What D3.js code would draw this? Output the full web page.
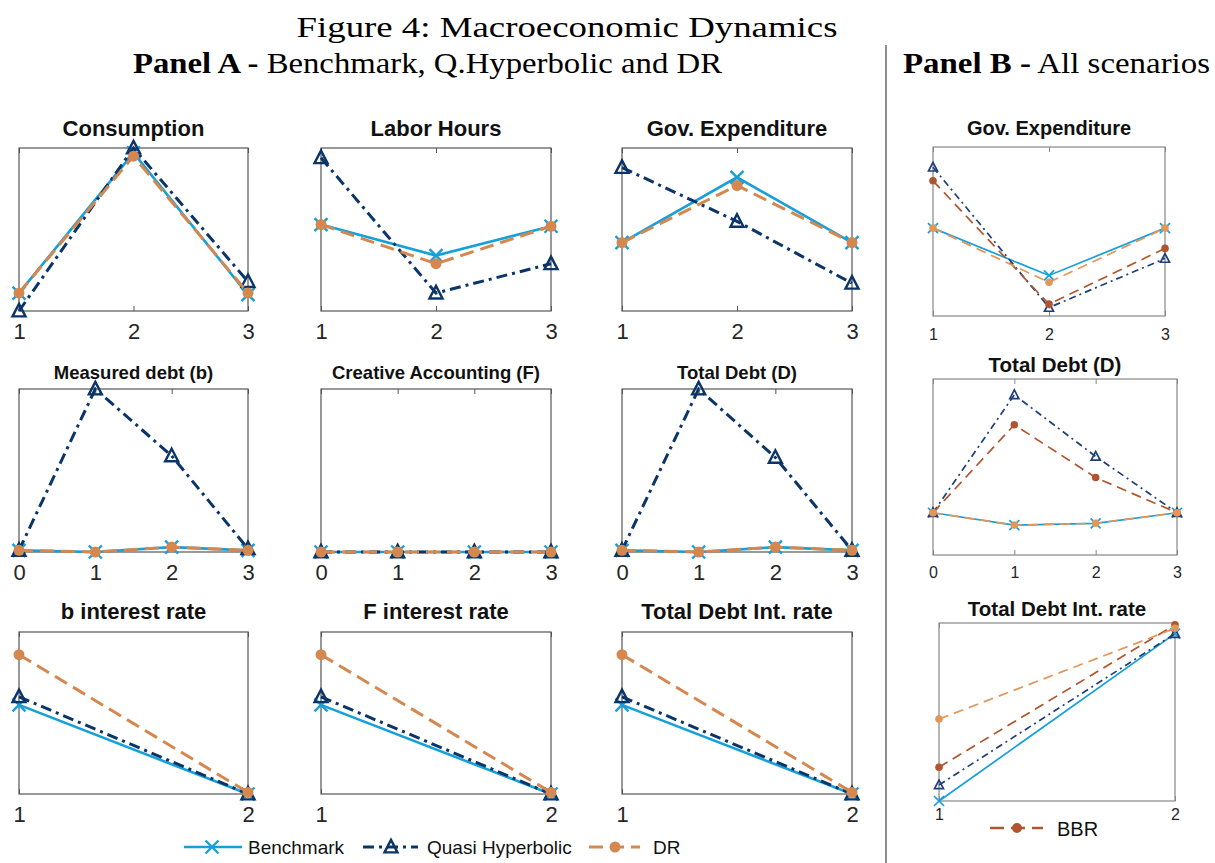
<!DOCTYPE html>
<html><head><meta charset="utf-8">
<script src="https://cdn.jsdelivr.net/npm/d3@7"></script>
<style>body{margin:0;background:#fff}svg{display:block}</style>
</head><body>
<svg id="c" width="1215" height="863"></svg>
<script>
// ---------- DATA (values relative to each panel's own y-range) ----------
const xT3 = [1, 2, 3];
const xT4 = [0, 1, 2, 3];
const xT2 = [1, 2];

const consBench = [0.11, 0.97, 0.10];
const consQH    = [0.00, 1.00, 0.18];
const consDR    = [0.11, 0.95, 0.11];

const laborBench = [0.53, 0.34, 0.52];
const laborQH    = [0.94, 0.11, 0.29];
const laborDR    = [0.53, 0.29, 0.52];

const govBench = [0.42, 0.82, 0.42];
const govQH    = [0.88, 0.55, 0.17];
const govDR    = [0.42, 0.77, 0.42];

const bDebtBench = [0.01, 0.00, 0.03, 0.01];
const bDebtQH    = [0.01, 1.00, 0.59, 0.02];
const bDebtDR    = [0.01, 0.00, 0.03, 0.01];

const fAccBench = [0.00, 0.00, 0.00, 0.00];
const fAccQH    = [0.00, 0.00, 0.00, 0.00];
const fAccDR    = [0.00, 0.00, 0.00, 0.00];

const totDebtBench = [0.01, 0.00, 0.03, 0.01];
const totDebtQH    = [0.01, 1.00, 0.58, 0.01];
const totDebtDR    = [0.01, 0.00, 0.03, 0.01];

const bRateBench = [0.55, 0.00];
const bRateQH    = [0.60, 0.00];
const bRateDR    = [0.86, 0.01];

const fRateBench = [0.55, 0.00];
const fRateQH    = [0.60, 0.00];
const fRateDR    = [0.86, 0.01];

const dRateBench = [0.55, 0.00];
const dRateQH    = [0.60, 0.00];
const dRateDR    = [0.86, 0.01];

// Panel B
const pbGovBench = [0.52, 0.24, 0.52];
const pbGovQH    = [0.88, 0.05, 0.34];
const pbGovBBR   = [0.80, 0.07, 0.40];
const pbGovDR    = [0.52, 0.20, 0.52];

const pbDebtBench = [0.24, 0.17, 0.18, 0.24];
const pbDebtQH    = [0.24, 0.91, 0.56, 0.24];
const pbDebtBBR   = [0.24, 0.74, 0.44, 0.24];
const pbDebtDR    = [0.24, 0.17, 0.18, 0.24];

const pbRateBench = [0.00, 0.94];
const pbRateQH    = [0.09, 0.94];
const pbRateBBR   = [0.19, 0.99];
const pbRateDR    = [0.46, 0.97];

const seriesNames = ["Benchmark", "Quasi Hyperbolic", "DR"];
const bbrName = "BBR";

// ---------- STYLE ----------
const C = {bench:"#16a0da", qh:"#0b3568", dr:"#d4884f", bbr:"#b1552f", drB:"#e2975a"};
const svg = d3.select("#c");
const FONT = "Liberation Sans, Arial, Helvetica, sans-serif";

svg.append("text").attr("x", 567).attr("y", 37).attr("text-anchor","middle")
  .attr("font-family","Liberation Serif, serif").attr("font-size",29)
  .attr("textLength",541).attr("lengthAdjust","spacingAndGlyphs")
  .text("Figure 4: Macroeconomic Dynamics");
const pa = svg.append("text").attr("x",133).attr("y",73)
  .attr("font-family","Liberation Serif, serif").attr("font-size",29)
  .attr("textLength",589).attr("lengthAdjust","spacingAndGlyphs");
pa.append("tspan").attr("font-weight","bold").text("Panel A -");
pa.append("tspan").text(" Benchmark, Q.Hyperbolic and DR");
const pb = svg.append("text").attr("x",903).attr("y",73)
  .attr("font-family","Liberation Serif, serif").attr("font-size",29)
  .attr("textLength",307).attr("lengthAdjust","spacingAndGlyphs");
pb.append("tspan").attr("font-weight","bold").text("Panel B -");
pb.append("tspan").text(" All scenarios");

svg.append("line").attr("x1",886).attr("x2",886).attr("y1",45).attr("y2",863)
  .attr("stroke","#444").attr("stroke-width",1.2);

// ---------- MARKERS ----------
function marker(g, kind, x, y, color, s, sw) {
  if (kind === "x") {
    g.append("path").attr("d",`M${x-s},${y-s}L${x+s},${y+s}M${x-s},${y+s}L${x+s},${y-s}`)
      .attr("stroke",color).attr("stroke-width",sw).attr("fill","none");
  } else if (kind === "tri") {
    const h = s*1.1;
    g.append("path").attr("d",`M${x},${y-h}L${x+s},${y+h*0.75}L${x-s},${y+h*0.75}Z`)
      .attr("stroke",color).attr("stroke-width",sw).attr("fill","none");
  } else {
    g.append("circle").attr("cx",x).attr("cy",y).attr("r",s).attr("fill",color);
  }
}

function panel(opt) {
  const {x0,x1,y0,y1,xs,series,title,titleSize,titleY,tickSize,tickPad,box,lw,ms} = opt;
  const g = svg.append("g");
  const x = d3.scaleLinear().domain(d3.extent(xs)).range([x0,x1]);
  const y = d3.scaleLinear().domain([0,1]).range([y1,y0]);
  g.append("rect").attr("x",x0).attr("y",y0).attr("width",x1-x0).attr("height",y1-y0)
    .attr("fill","none").attr("stroke",box).attr("stroke-width",1.2);
  const ax = g.append("g").attr("transform",`translate(0,${y1})`)
    .call(d3.axisBottom(x).tickValues(xs).tickFormat(d3.format("d")).tickSize(-5).tickPadding(tickPad));
  ax.select(".domain").remove();
  ax.selectAll(".tick line").attr("stroke",box);
  ax.selectAll("text").attr("font-family",FONT).attr("font-size",tickSize).attr("fill","#262626");
  const axt = g.append("g").attr("transform",`translate(0,${y0})`)
    .call(d3.axisTop(x).tickValues(xs).tickFormat("").tickSize(-5));
  axt.select(".domain").remove();
  axt.selectAll(".tick line").attr("stroke",box);
  g.append("text").attr("x",(x0+x1)/2).attr("y",titleY).attr("text-anchor","middle")
    .attr("font-family",FONT).attr("font-weight","bold").attr("font-size",titleSize)
    .attr("fill","#111").text(title);
  const line = d3.line().x((d,i)=>x(xs[i])).y(d=>y(d));
  series.forEach(s => {
    g.append("path").datum(s.v).attr("d",line).attr("fill","none")
      .attr("stroke",s.c).attr("stroke-width",s.w||lw).attr("stroke-dasharray",s.dash||null);
    s.v.forEach((v,i)=>marker(g,s.m,x(xs[i]),y(v),s.c,s.ms||ms,s.mw||2.4));
  });
}

const DASH_DR = "14,7", DASH_QH = "11,5,3,5";
function A(b,q,d){ return [
  {v:b,c:C.bench,m:"x",w:2.6,ms:6.5},
  {v:q,c:C.qh,m:"tri",dash:DASH_QH,w:3,ms:6.5},
  {v:d,c:C.dr,m:"dot",dash:DASH_DR,w:3,ms:5.5}]; }

const colsA = [[19,248],[321,551],[622,852]];
const rowsA = [
  {y0:148,y1:311,xs:xT3,titleY:136,ts:22,items:[["Consumption",consBench,consQH,consDR],["Labor Hours",laborBench,laborQH,laborDR],["Gov. Expenditure",govBench,govQH,govDR]]},
  {y0:389,y1:552,xs:xT4,titleY:379,ts:18.5,items:[["Measured debt (b)",bDebtBench,bDebtQH,bDebtDR],["Creative Accounting (F)",fAccBench,fAccQH,fAccDR],["Total Debt (D)",totDebtBench,totDebtQH,totDebtDR]]},
  {y0:632,y1:794,xs:xT2,titleY:619,ts:22,items:[["b interest rate",bRateBench,bRateQH,bRateDR],["F interest rate",fRateBench,fRateQH,fRateDR],["Total Debt Int. rate",dRateBench,dRateQH,dRateDR]]}
];
rowsA.forEach(r => r.items.forEach((it,ci) => panel({
  x0:colsA[ci][0], x1:colsA[ci][1], y0:r.y0, y1:r.y1, xs:r.xs,
  series:A(it[1],it[2],it[3]), title:it[0], titleSize:r.ts, titleY:r.titleY,
  tickSize:22, tickPad:12, box:"#555", lw:2.6, ms:6.5
})));

function B(b,q,bb,d){ return [
  {v:b,c:C.bench,m:"x",w:1.7,ms:5,mw:1.7},
  {v:q,c:"#1f3f78",m:"tri",dash:"7,4,2,4",w:1.7,ms:4.5,mw:1.7},
  {v:bb,c:C.bbr,m:"dot",dash:"10,6",w:1.7,ms:3.8},
  {v:d,c:C.drB,m:"dot",dash:"10,6",w:1.7,ms:3.8}]; }
panel({x0:933,x1:1165,y0:147,y1:316,xs:xT3,series:B(pbGovBench,pbGovQH,pbGovBBR,pbGovDR),
  title:"Gov. Expenditure",titleSize:20,titleY:135,tickSize:16,tickPad:13,box:"#888",lw:1.7,ms:4});
panel({x0:933,x1:1177,y0:379,y1:555,xs:xT4,series:B(pbDebtBench,pbDebtQH,pbDebtBBR,pbDebtDR),
  title:"Total Debt (D)",titleSize:20.5,titleY:372,tickSize:16,tickPad:12,box:"#888",lw:1.7,ms:4});
panel({x0:939,x1:1175,y0:623,y1:801,xs:xT2,series:B(pbRateBench,pbRateQH,pbRateBBR,pbRateDR),
  title:"Total Debt Int. rate",titleSize:20.5,titleY:616,tickSize:16,tickPad:8,box:"#888",lw:1.7,ms:4});

// ---------- LEGENDS ----------
const lg = svg.append("g");
const legItems = [
  {name:seriesNames[0],c:C.bench,m:"x",dash:null,l0:184,l1:242,mx:212,tx:248,w:2.6,ms:6.5},
  {name:seriesNames[1],c:C.qh,m:"tri",dash:DASH_QH,l0:363,l1:418,mx:391,tx:427,w:3,ms:6.5},
  {name:seriesNames[2],c:C.dr,m:"dot",dash:DASH_DR,l0:589,l1:640,mx:615,tx:653,w:3,ms:5.5}
];
legItems.forEach(it=>{
  lg.append("line").attr("x1",it.l0).attr("x2",it.l1).attr("y1",847).attr("y2",847)
    .attr("stroke",it.c).attr("stroke-width",it.w).attr("stroke-dasharray",it.dash);
  marker(lg,it.m,it.mx,847,it.c,it.ms,2.4);
  lg.append("text").attr("x",it.tx).attr("y",854).attr("font-family",FONT).attr("font-size",19)
    .attr("fill","#111").text(it.name);
});
lg.append("line").attr("x1",990).attr("x2",1043).attr("y1",828).attr("y2",828)
  .attr("stroke",C.bbr).attr("stroke-width",2.4).attr("stroke-dasharray","14,7");
marker(lg,"dot",1017,828,C.bbr,5,0);
lg.append("text").attr("x",1057).attr("y",836).attr("font-family",FONT).attr("font-size",20)
  .attr("fill","#111").text(bbrName);
</script>
</body></html>
